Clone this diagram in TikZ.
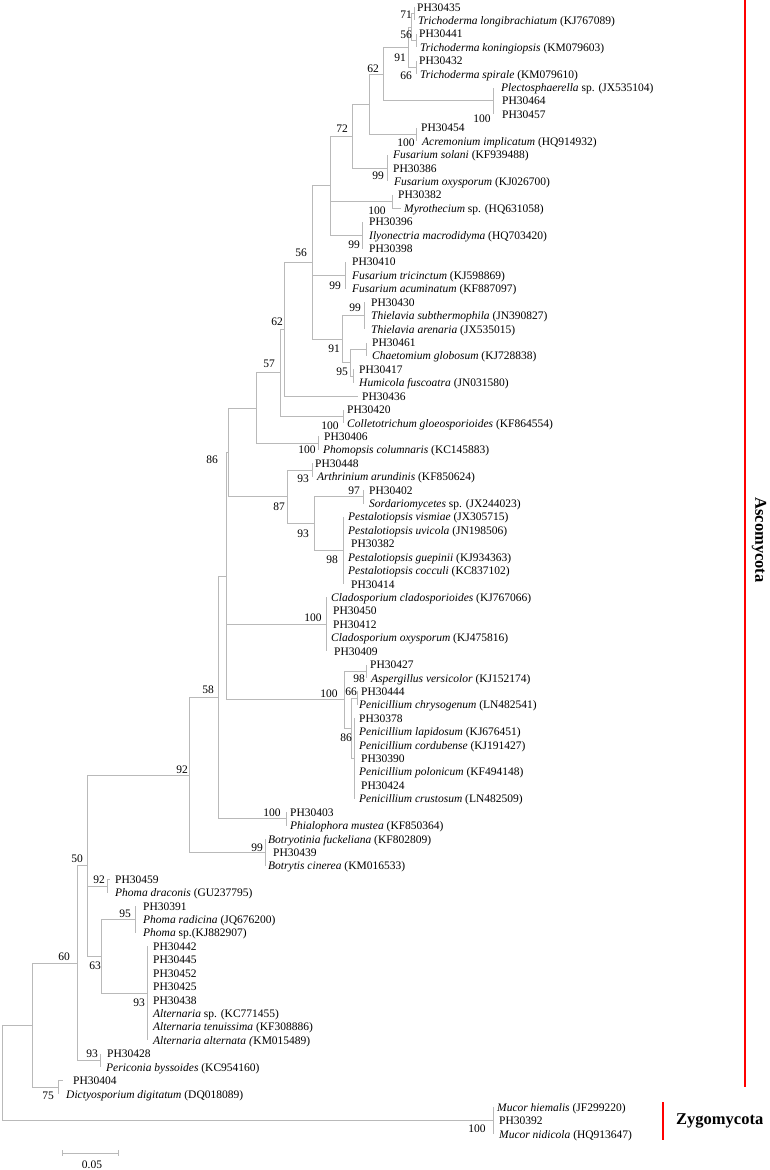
\documentclass[tikz,border=0pt]{standalone}
\usepackage{fontspec}
\setmainfont{Liberation Serif}
\usetikzlibrary{calc}
\newcommand\Lf[4]{\coordinate (t#1) at (#2,{7+(#1-1)*13.42});\node[leaf] (l#1) at (#3,{7+(#1-1)*13.42}) {#4};}
\newcommand\In[4]{\path let \p1=(#3),\p2=(#4) in coordinate (#1) at (#2pt,{0.5*\y1+0.5*\y2});}
\newcommand\Br[2]{\foreach \c in {#2} {\draw[br] (#1) |- (\c);}}
\newcommand\Bs[4]{\node[bs] (#1) at (#2,#3) {#4};}
\begin{document}
\begin{tikzpicture}[x=1pt,y=-1pt,
  leaf/.style={anchor=base west,inner sep=0pt,yshift=-4pt,font=\fontsize{11.5}{13}\selectfont},
  bs/.style={anchor=base,inner sep=0pt,yshift=-4pt,font=\fontsize{11.5}{13}\selectfont},
  br/.style={draw=gray!55,line width=0.9pt},
  clade/.style={draw=red,line width=2pt},
  cladelabel/.style={inner sep=0pt,font=\fontsize{16.5}{18}\selectfont\bfseries}]
\useasboundingbox (0,0) rectangle (769,1170);
% leaves
\Lf{1}{414}{417}{PH30435}
\Lf{2}{414}{418}{\textit{Trichoderma longibrachiatum} (KJ767089)}
\Lf{3}{416}{419}{PH30441}
\Lf{4}{416}{420}{\textit{Trichoderma koningiopsis} (KM079603)}
\Lf{5}{416}{419}{PH30432}
\Lf{6}{416}{420}{\textit{Trichoderma spirale} (KM079610)}
\Lf{7}{493}{501}{\textit{Plectosphaerella} sp. (JX535104)}
\Lf{8}{493}{502}{PH30464}
\Lf{9}{493}{502}{PH30457}
\Lf{10}{416}{421}{PH30454}
\Lf{11}{416}{422}{\textit{Acremonium implicatum} (HQ914932)}
\Lf{12}{387}{393}{\textit{Fusarium solani} (KF939488)}
\Lf{13}{387}{393}{PH30386}
\Lf{14}{387}{394}{\textit{Fusarium oxysporum} (KJ026700)}
\Lf{15}{392}{398}{PH30382}
\Lf{16}{401}{404}{\textit{Myrothecium} sp. (HQ631058)}
\Lf{17}{362}{369}{PH30396}
\Lf{18}{362}{369}{\textit{Ilyonectria macrodidyma} (HQ703420)}
\Lf{19}{362}{369}{PH30398}
\Lf{20}{345}{352}{PH30410}
\Lf{21}{345}{352}{\textit{Fusarium tricinctum} (KJ598869)}
\Lf{22}{345}{352}{\textit{Fusarium acuminatum} (KF887097)}
\Lf{23}{364}{371}{PH30430}
\Lf{24}{364}{371}{\textit{Thielavia subthermophila} (JN390827)}
\Lf{25}{364}{371}{\textit{Thielavia arenaria} (JX535015)}
\Lf{26}{366}{372}{PH30461}
\Lf{27}{366}{372}{\textit{Chaetomium globosum} (KJ728838)}
\Lf{28}{353}{359}{PH30417}
\Lf{29}{353}{359}{\textit{Humicola fuscoatra} (JN031580)}
\Lf{30}{358}{362}{PH30436}
\Lf{31}{343}{347}{PH30420}
\Lf{32}{343}{347}{\textit{Colletotrichum gloeosporioides} (KF864554)}
\Lf{33}{318}{324}{PH30406}
\Lf{34}{318}{323}{\textit{Phomopsis columnaris} (KC145883)}
\Lf{35}{312}{315}{PH30448}
\Lf{36}{312}{317}{\textit{Arthrinium arundinis} (KF850624)}
\Lf{37}{363}{369}{PH30402}
\Lf{38}{363}{369}{\textit{Sordariomycetes} sp. (JX244023)}
\Lf{39}{343}{348}{\textit{Pestalotiopsis vismiae} (JX305715)}
\Lf{40}{343}{348}{\textit{Pestalotiopsis uvicola} (JN198506)}
\Lf{41}{343}{351}{PH30382}
\Lf{42}{343}{348}{\textit{Pestalotiopsis guepinii} (KJ934363)}
\Lf{43}{343}{348}{\textit{Pestalotiopsis cocculi} (KC837102)}
\Lf{44}{343}{351}{PH30414}
\Lf{45}{326}{331}{\textit{Cladosporium cladosporioides} (KJ767066)}
\Lf{46}{326}{333}{PH30450}
\Lf{47}{326}{333}{PH30412}
\Lf{48}{326}{331}{\textit{Cladosporium oxysporum} (KJ475816)}
\Lf{49}{326}{334}{PH30409}
\Lf{50}{366}{370}{PH30427}
\Lf{51}{366}{371}{\textit{Aspergillus versicolor} (KJ152174)}
\Lf{52}{357}{361}{PH30444}
\Lf{53}{357}{359}{\textit{Penicillium chrysogenum} (LN482541)}
\Lf{54}{354}{359}{PH30378}
\Lf{55}{354}{359}{\textit{Penicillium lapidosum} (KJ676451)}
\Lf{56}{354}{359}{\textit{Penicillium cordubense} (KJ191427)}
\Lf{57}{354}{361}{PH30390}
\Lf{58}{354}{359}{\textit{Penicillium polonicum} (KF494148)}
\Lf{59}{354}{361}{PH30424}
\Lf{60}{354}{359}{\textit{Penicillium crustosum} (LN482509)}
\Lf{61}{286}{290}{PH30403}
\Lf{62}{286}{290}{\textit{Phialophora mustea} (KF850364)}
\Lf{63}{265}{268}{\textit{Botryotinia fuckeliana} (KF802809)}
\Lf{64}{265}{273}{PH30439}
\Lf{65}{265}{268}{\textit{Botrytis cinerea} (KM016533)}
\Lf{66}{110}{115}{PH30459}
\Lf{67}{107}{115}{\textit{Phoma draconis} (GU237795)}
\Lf{68}{135}{143}{PH30391}
\Lf{69}{135}{143}{\textit{Phoma radicina} (JQ676200)}
\Lf{70}{135}{143}{\textit{Phoma} sp.(KJ882907)}
\Lf{71}{147}{153}{PH30442}
\Lf{72}{147}{153}{PH30445}
\Lf{73}{147}{153}{PH30452}
\Lf{74}{147}{153}{PH30425}
\Lf{75}{147}{153}{PH30438}
\Lf{76}{147}{153}{\textit{Alternaria} sp. (KC771455)}
\Lf{77}{147}{153}{\textit{Alternaria tenuissima} (KF308886)}
\Lf{78}{147}{153}{\textit{Alternaria alternata (}KM015489)}
\Lf{79}{100}{107}{PH30428}
\Lf{80}{100}{106}{\textit{Periconia byssoides} (KC954160)}
\Lf{81}{63}{73}{PH30404}
\Lf{82}{58}{66}{\textit{Dictyosporium digitatum} (DQ018089)}
\Lf{83}{493}{497}{\textit{Mucor hiemalis} (JF299220)}
\Lf{84}{493}{499}{PH30392}
\Lf{85}{493}{499}{\textit{Mucor nidicola} (HQ913647)}
% internal nodes
\In{nT1}{414}{t1}{t2}
\In{nT2}{416}{t3}{t4}
\In{nT3}{411}{nT1}{nT2}
\In{nT4}{416}{t5}{t6}
\In{nT5}{408}{nT3}{nT4}
\In{nPl}{493}{t7}{t9}
\In{nSa}{383}{nT5}{nPl}
\In{nAc}{416}{t10}{t11}
\In{nSb}{369}{nSa}{nAc}
\In{nFS}{387}{t12}{t14}
\In{nSc}{352}{nSb}{nFS}
\In{nMy}{392}{t15}{t16}
\In{nIl}{362}{t17}{t19}
\In{nSd}{330}{nSc}{nIl}
\In{nFT}{345}{t20}{t22}
\In{nTh}{364}{t23}{t25}
\In{nCh}{366}{t26}{t27}
\In{nHu}{353}{t28}{t29}
\In{nCH}{350}{nCh}{nHu}
\In{nSe}{342}{nTh}{nCH}
\In{nSf}{312}{nSd}{nSe}
\In{nSg}{284}{nSf}{t30}
\In{nCo}{343}{t31}{t32}
\In{nSh}{280}{nSg}{nCo}
\In{nPh}{318}{t33}{t34}
\In{nSi}{256}{nSh}{nPh}
\In{nAr}{312}{t35}{t36}
\In{nSo}{363}{t37}{t38}
\In{nPe}{343}{t39}{t44}
\In{nSj}{314}{nSo}{nPe}
\In{nSk}{287}{nAr}{nSj}
\In{nSl}{228}{nSi}{nSk}
\In{nCl}{326}{t45}{t49}
\In{nAs}{366}{t50}{t51}
\In{nPa}{357}{t52}{t53}
\In{nPb}{354}{t54}{t60}
\In{nPc}{351}{nPa}{nPb}
\In{nPen}{344}{nAs}{nPc}
\In{nSm}{226}{nSl}{nPen}
\In{nPhi}{286}{t61}{t62}
\In{nSn}{218}{nSm}{nPhi}
\In{nBo}{265}{t63}{t65}
\In{nSo2}{189}{nSn}{nBo}
\In{nPD}{107}{t66}{t67}
\In{nPR}{135}{t68}{t70}
\In{nAl}{147}{t71}{t78}
\In{nSp}{101}{nPR}{nAl}
\In{nSq}{87}{nSo2}{nSp}
\In{nPer}{100}{t79}{t80}
\In{nSr}{77}{nSq}{nPer}
\In{nDi}{58}{t81}{t82}
\In{nSs}{32}{nSr}{nDi}
\In{nMu}{493}{t83}{t85}
\In{root}{2}{nSs}{nMu}
% branches
\Br{nT1}{t1,t2}
\Br{nT2}{t3,t4}
\Br{nT3}{nT1,nT2}
\Br{nT4}{t5,t6}
\Br{nT5}{nT3,nT4}
\Br{nPl}{t7,t8,t9}
\Br{nSa}{nT5,nPl}
\Br{nAc}{t10,t11}
\Br{nSb}{nSa,nAc}
\Br{nFS}{t12,t13,t14}
\Br{nSc}{nSb,nFS}
\Br{nMy}{t15,t16}
\Br{nIl}{t17,t18,t19}
\Br{nSd}{nSc,nMy,nIl}
\Br{nFT}{t20,t21,t22}
\Br{nTh}{t23,t24,t25}
\Br{nCh}{t26,t27}
\Br{nHu}{t28,t29}
\Br{nCH}{nCh,nHu}
\Br{nSe}{nTh,nCH}
\Br{nSf}{nSd,nFT,nSe}
\Br{nSg}{nSf,t30}
\Br{nCo}{t31,t32}
\Br{nSh}{nSg,nCo}
\Br{nPh}{t33,t34}
\Br{nSi}{nSh,nPh}
\Br{nAr}{t35,t36}
\Br{nSo}{t37,t38}
\Br{nPe}{t39,t40,t41,t42,t43,t44}
\Br{nSj}{nSo,nPe}
\Br{nSk}{nAr,nSj}
\Br{nSl}{nSi,nSk}
\Br{nCl}{t45,t46,t47,t48,t49}
\Br{nAs}{t50,t51}
\Br{nPa}{t52,t53}
\Br{nPb}{t54,t55,t56,t57,t58,t59,t60}
\Br{nPc}{nPa,nPb}
\Br{nPen}{nAs,nPc}
\Br{nSm}{nSl,nCl,nPen}
\Br{nPhi}{t61,t62}
\Br{nSn}{nSm,nPhi}
\Br{nBo}{t63,t64,t65}
\Br{nSo2}{nSn,nBo}
\Br{nPD}{t66,t67}
\Br{nPR}{t68,t69,t70}
\Br{nAl}{t71,t72,t73,t74,t75,t76,t77,t78}
\Br{nSp}{nPR,nAl}
\Br{nSq}{nSo2,nPD,nSp}
\Br{nPer}{t79,t80}
\Br{nSr}{nSq,nPer}
\Br{nDi}{t81,t82}
\Br{nSs}{nSr,nDi}
\Br{nMu}{t83,t84,t85}
\Br{root}{nSs,nMu}
% bootstrap values
\Bs{b1}{406}{14}{71}
\Bs{b2}{406}{34}{56}
\Bs{b3}{400}{57}{91}
\Bs{b4}{406}{75}{66}
\Bs{b5}{373}{68}{62}
\Bs{b6}{482}{118}{100}
\Bs{b7}{342}{128}{72}
\Bs{b8}{406}{142}{100}
\Bs{b9}{378}{175}{99}
\Bs{b10}{377}{210}{100}
\Bs{b11}{354}{244}{99}
\Bs{b12}{301}{252}{56}
\Bs{b13}{335}{285}{99}
\Bs{b14}{355}{307}{99}
\Bs{b15}{277}{321}{62}
\Bs{b16}{334}{348}{91}
\Bs{b17}{269}{363}{57}
\Bs{b18}{342}{371}{95}
\Bs{b19}{330}{425}{100}
\Bs{b20}{307}{449}{100}
\Bs{b21}{212}{459}{86}
\Bs{b22}{303}{478}{93}
\Bs{b23}{354}{490}{97}
\Bs{b24}{279}{506}{87}
\Bs{b25}{303}{533}{93}
\Bs{b26}{332}{559}{98}
\Bs{b27}{313}{617}{100}
\Bs{b28}{359}{678}{98}
\Bs{b29}{208}{689}{58}
\Bs{b30}{329}{693}{100}
\Bs{b31}{351}{691}{66}
\Bs{b32}{346}{737}{86}
\Bs{b33}{182}{769}{92}
\Bs{b34}{272}{812}{100}
\Bs{b35}{257}{847}{99}
\Bs{b36}{77}{858}{50}
\Bs{b37}{99}{879}{92}
\Bs{b38}{125}{913}{95}
\Bs{b39}{95}{965}{63}
\Bs{b40}{139}{1002}{93}
\Bs{b41}{64}{956}{60}
\Bs{b42}{92}{1053}{93}
\Bs{b43}{48}{1095}{75}
\Bs{b44}{477}{1128}{100}
% clade bars
\coordinate (ascT) at (745,0);
\coordinate (ascB) at (745,1087);
\draw[clade] (ascT) -- (ascB);
\node[cladelabel,rotate=-90] (asc) at (759,540) {Ascomycota};
\coordinate (zygT) at (663,1102);
\coordinate (zygB) at (663,1140);
\draw[clade] (zygT) -- (zygB);
\node[cladelabel,anchor=west] (zyg) at (676,1121) {Zygomycota};
% scale bar
\coordinate (sbL) at (62,1153);
\coordinate (sbR) at (118,1153);
\draw[br] (sbL) -- (sbR);
\draw[br] ([yshift=3pt]sbL) -- ([yshift=-3pt]sbL);
\draw[br] ([yshift=3pt]sbR) -- ([yshift=-3pt]sbR);
\node[bs] (sbt) at (92,1164) {0.05};
\end{tikzpicture}
\end{document}
